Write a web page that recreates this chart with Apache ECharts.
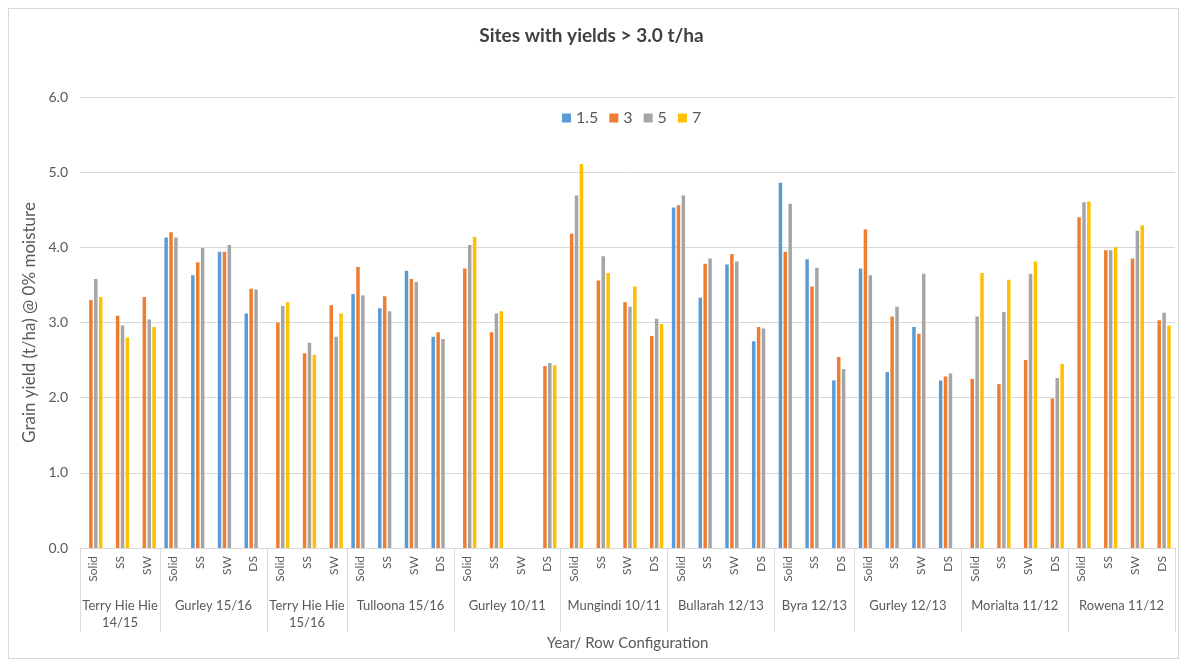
<!DOCTYPE html>
<html>
<head>
<meta charset="utf-8">
<title>Sites with yields > 3.0 t/ha</title>
<script src="https://cdn.jsdelivr.net/npm/echarts@6/dist/echarts.min.js"></script>
<style>
    html, body { margin: 0; padding: 0; background: #fff; }
    #main { width: 1183px; height: 663px; }
    #frame { position: absolute; left: 8px; top: 8px; width: 1169px; height: 649px; border: 1px solid #d9d9d9; pointer-events: none; }
</style>
</head>
<body>
<div id="main"></div>
<div id="frame"></div>
<script>
// site / year groups and how many row configs each has
var groupNames = ['Terry Hie Hie\n14/15', 'Gurley 15/16', 'Terry Hie Hie\n15/16', 'Tulloona 15/16', 'Gurley 10/11',
    'Mungindi 10/11', 'Bullarah 12/13', 'Byra 12/13', 'Gurley 12/13', 'Morialta 11/12', 'Rowena 11/12'];
var groupSizes = [3, 4, 3, 4, 4, 4, 4, 3, 4, 4, 4];

// row configuration under each group
var rowConfig = ['Solid', 'SS', 'SW',
    'Solid', 'SS', 'SW', 'DS',
    'Solid', 'SS', 'SW',
    'Solid', 'SS', 'SW', 'DS',
    'Solid', 'SS', 'SW', 'DS',
    'Solid', 'SS', 'SW', 'DS',
    'Solid', 'SS', 'SW', 'DS',
    'Solid', 'SS', 'DS',
    'Solid', 'SS', 'SW', 'DS',
    'Solid', 'SS', 'SW', 'DS',
    'Solid', 'SS', 'SW', 'DS'];

var seriesNames = ['1.5', '3', '5', '7'];

// grain yield t/ha, '-' = no data
var s1_5 = ['-', '-', '-', 4.13, 3.63, 3.94, 3.12, '-', '-', '-', 3.38, 3.19, 3.69, 2.81,
    '-', '-', '-', '-', '-', '-', '-', '-', 4.53, 3.33, 3.77, 2.75, 4.86, 3.84, 2.23,
    3.72, 2.34, 2.94, 2.23, '-', '-', '-', '-', '-', '-', '-', '-'];
var s3 = [3.30, 3.09, 3.34, 4.20, 3.80, 3.94, 3.45, 3.00, 2.59, 3.23, 3.74, 3.35, 3.58, 2.87,
    3.72, 2.87, '-', 2.42, 4.18, 3.56, 3.27, 2.82, 4.56, 3.78, 3.91, 2.94, 3.94, 3.48, 2.54,
    4.24, 3.08, 2.85, 2.28, 2.25, 2.18, 2.50, 1.99, 4.40, 3.96, 3.85, 3.03];
var s5 = [3.58, 2.96, 3.04, 4.13, 3.99, 4.03, 3.44, 3.22, 2.73, 2.81, 3.36, 3.15, 3.54, 2.78,
    4.03, 3.12, '-', 2.46, 4.69, 3.88, 3.21, 3.05, 4.69, 3.85, 3.81, 2.92, 4.58, 3.73, 2.38,
    3.63, 3.21, 3.65, 2.32, 3.08, 3.14, 3.65, 2.26, 4.60, 3.96, 4.22, 3.13];
var s7 = [3.34, 2.80, 2.94, '-', '-', '-', '-', 3.27, 2.57, 3.12, '-', '-', '-', '-',
    4.14, 3.15, '-', 2.43, 5.11, 3.66, 3.48, 2.98, '-', '-', '-', '-', '-', '-', '-',
    '-', '-', '-', '-', 3.66, 3.57, 3.81, 2.45, 4.61, 4.00, 4.29, 2.96];

var yMin = 0, yMax = 6, yStep = 1;

var colors = ['#5B9BD5', '#ED7D31', '#A5A5A5', '#FFC000'];
var fontName = 'Lato';
var textColor = '#595959';

// second axis: two slots per category, no boundary gap,
// so group edges and group centres both land on a point
var groupAxisData = [];
var groupEdges = {};
var pos = 0;
for (var i = 0; i < groupSizes.length; i++) {
    groupEdges[pos * 2] = true;
    for (var k = 0; k < groupSizes[i] * 2; k++) {
        groupAxisData.push(k == groupSizes[i] ? groupNames[i] : '');
    }
    pos += groupSizes[i];
}
groupEdges[pos * 2] = true;
groupAxisData.push('');

var allData = [s1_5, s3, s5, s7];
var seriesList = [];
for (var j = 0; j < seriesNames.length; j++) {
    seriesList.push({
        name: seriesNames[j],
        type: 'bar',
        xAxisIndex: 0,
        barCategoryGap: '32%',
        barGap: '40%',
        itemStyle: { color: colors[j] },
        data: allData[j]
    });
}

var option = {
    animation: false,
    textStyle: { fontFamily: fontName },
    title: {
        text: 'Sites with yields > 3.0 t/ha',
        left: 'center',
        top: 21,
        textStyle: { fontFamily: fontName, fontSize: 19, fontWeight: 'bold', color: '#404040' }
    },
    legend: {
        data: seriesNames,
        left: 557,
        top: 105,
        icon: 'rect',
        itemWidth: 9,
        itemHeight: 9,
        itemGap: 11,
        textStyle: { fontFamily: fontName, fontSize: 16, color: textColor }
    },
    grid: {
        left: 80,
        right: 8,
        top: 97,
        bottom: 115
    },
    xAxis: [{
        type: 'category',
        data: rowConfig,
        position: 'bottom',
        axisLine: { lineStyle: { color: '#d9d9d9' } },
        axisTick: { show: false },
        axisLabel: {
            rotate: 90,
            interval: 0,
            margin: 8,
            fontFamily: fontName,
            fontSize: 12,
            color: textColor
        }
    }, {
        type: 'category',
        data: groupAxisData,
        position: 'bottom',
        boundaryGap: false,
        name: 'Year/ Row Configuration',
        nameLocation: 'middle',
        nameGap: 88,
        nameTextStyle: { fontFamily: fontName, fontSize: 15, color: textColor },
        axisLine: { show: false },
        axisTick: {
            show: true,
            length: 84,
            interval: function (index) { return groupEdges[index] === true; },
            lineStyle: { color: '#d9d9d9' }
        },
        axisLabel: {
            interval: function (index, value) { return value !== ''; },
            margin: 49,
            lineHeight: 17,
            fontFamily: fontName,
            fontSize: 13,
            color: textColor
        },
        splitLine: { show: false }
    }],
    yAxis: {
        type: 'value',
        min: yMin,
        max: yMax,
        interval: yStep,
        name: 'Grain yield (t/ha) @ 0% moisture',
        nameLocation: 'middle',
        nameGap: 34,
        nameTextStyle: { fontFamily: fontName, fontSize: 17, color: textColor },
        axisLine: { show: false },
        axisTick: { show: false },
        axisLabel: {
            margin: 12,
            fontFamily: fontName,
            fontSize: 14,
            color: textColor,
            formatter: function (v) { return v.toFixed(1); }
        },
        splitLine: { lineStyle: { color: '#d9d9d9' } }
    },
    series: seriesList
};

var myChart = echarts.init(document.getElementById('main'));
myChart.setOption(option);
</script>
</body>
</html>
